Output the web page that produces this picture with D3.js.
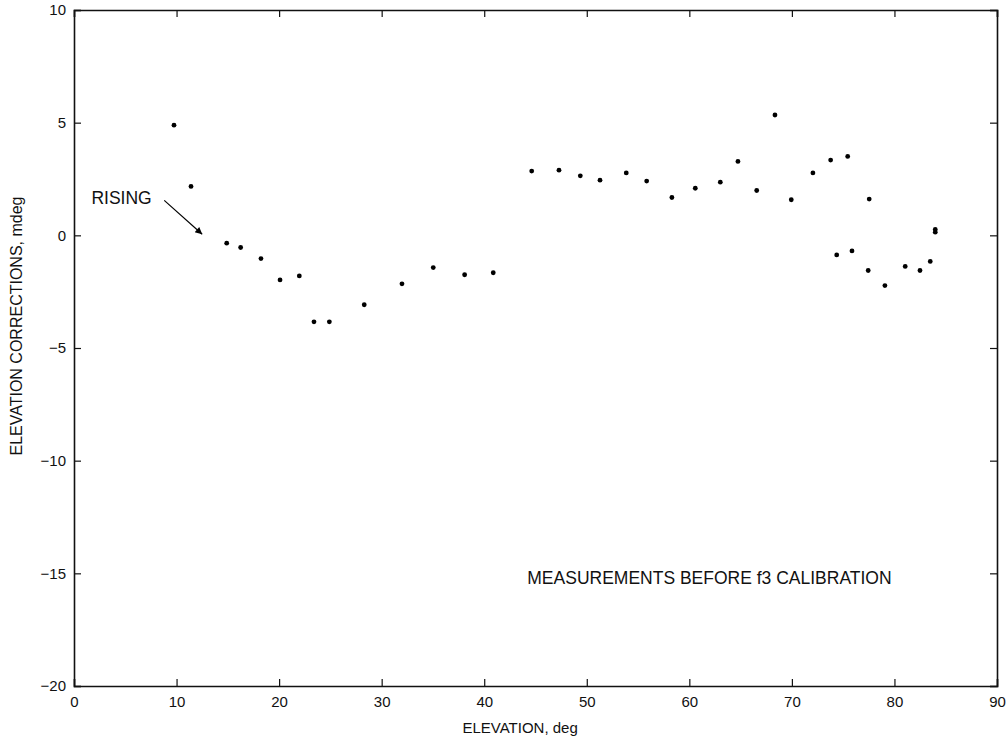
<!DOCTYPE html>
<html>
<head>
<meta charset="utf-8">
<script src="https://cdn.jsdelivr.net/npm/d3@7"></script>
<style>
  body { margin: 0; background: #fff; }
  text { font-family: "Liberation Sans", Arial, sans-serif; fill: #111; }
</style>
</head>
<body>
<div class="graph"></div>
<script>
// data
const elevation = [9.75, 11.41, 14.89, 16.25, 18.23, 20.09, 21.97, 23.4, 24.9, 28.3,
  31.98, 35.03, 38.09, 40.88, 44.63, 47.29, 49.37, 51.29, 53.85, 55.84,
  58.3, 60.58, 63.02, 64.74, 66.57, 68.35, 69.94, 72.05, 73.78, 75.44,
  77.54, 74.37, 75.86, 77.44, 79.07, 81.05, 82.49, 83.49, 83.98, 83.98];
const correction = [4.89, 2.17, -0.35, -0.54, -1.03, -1.98, -1.80, -3.84, -3.84, -3.08,
  -2.15, -1.43, -1.75, -1.66, 2.85, 2.89, 2.64, 2.45, 2.77, 2.41,
  1.68, 2.09, 2.36, 3.28, 1.99, 5.34, 1.58, 2.77, 3.34, 3.50,
  1.61, -0.87, -0.69, -1.56, -2.23, -1.38, -1.56, -1.16, 0.26, 0.14];
const xTicks = [0, 10, 20, 30, 40, 50, 60, 70, 80, 90];
const yTicks = [-20, -15, -10, -5, 0, 5, 10];

// dimensions
const W = 1007, H = 744;
const margin = { top: 10, right: 10, bottom: 58, left: 74 };
const width = W - margin.left - margin.right;
const height = H - margin.top - margin.bottom;
const TICK = 7;

const svg = d3.select(".graph").append("svg")
  .attr("width", W).attr("height", H);
const g = svg.append("g")
  .attr("transform", "translate(" + margin.left + "," + margin.top + ")");

const x = d3.scaleLinear().domain([0, 90]).range([0, width]);
const y = d3.scaleLinear().domain([-20, 10]).range([height, 0]);

const fmt = d => (d < 0 ? "\u2212" + Math.abs(d) : "" + d);

// axes with inward ticks on all four sides
g.append("g").attr("transform", "translate(0," + height + ")")
  .call(d3.axisBottom(x).tickValues(xTicks).tickSize(-TICK).tickPadding(10).tickFormat(fmt));
g.append("g")
  .call(d3.axisTop(x).tickValues(xTicks).tickSize(-TICK).tickFormat(""));
g.append("g")
  .call(d3.axisLeft(y).tickValues(yTicks).tickSize(-TICK).tickPadding(8).tickFormat(fmt));
g.append("g").attr("transform", "translate(" + width + ",0)")
  .call(d3.axisRight(y).tickValues(yTicks).tickSize(-TICK).tickFormat(""));

g.selectAll(".domain").attr("stroke", "#111").attr("stroke-width", 1.6);
g.selectAll(".tick line").attr("stroke", "#111").attr("stroke-width", 1.2);
g.selectAll(".tick text").style("font-size", "15px").attr("fill", "#111");

// points
g.selectAll("circle.pt")
  .data(elevation.map((e, i) => [e, correction[i]]))
  .enter().append("circle")
  .attr("class", "pt")
  .attr("cx", d => x(d[0]))
  .attr("cy", d => y(d[1]))
  .attr("r", 2.4)
  .attr("fill", "#000");

// axis labels
svg.append("text")
  .attr("x", margin.left + x(43.5)).attr("y", 733)
  .attr("text-anchor", "middle")
  .style("font-size", "15px")
  .text("ELEVATION, deg");

svg.append("text")
  .attr("transform", "translate(22,326) rotate(-90)")
  .attr("text-anchor", "middle")
  .style("font-size", "16px")
  .text("ELEVATION CORRECTIONS, mdeg");

// annotations
g.append("text")
  .attr("x", x(44.2)).attr("y", y(-15.2))
  .attr("dy", "0.35em")
  .style("font-size", "17.5px")
  .text("MEASUREMENTS BEFORE f3 CALIBRATION");

g.append("text")
  .attr("x", x(1.7)).attr("y", y(1.65))
  .attr("dy", "0.35em")
  .style("font-size", "17.5px")
  .text("RISING");

svg.append("defs").append("marker")
  .attr("id", "arrow")
  .attr("viewBox", "0 0 10 10")
  .attr("refX", 10).attr("refY", 5)
  .attr("markerWidth", 11).attr("markerHeight", 7)
  .attr("markerUnits", "userSpaceOnUse")
  .attr("orient", "auto")
  .append("path").attr("d", "M0,0 L10,5 L0,10 z").attr("fill", "#000");

g.append("line")
  .attr("x1", x(8.8)).attr("y1", y(1.55))
  .attr("x2", x(12.5)).attr("y2", y(0.05))
  .attr("stroke", "#000").attr("stroke-width", 1.2)
  .attr("marker-end", "url(#arrow)");
</script>
</body>
</html>
